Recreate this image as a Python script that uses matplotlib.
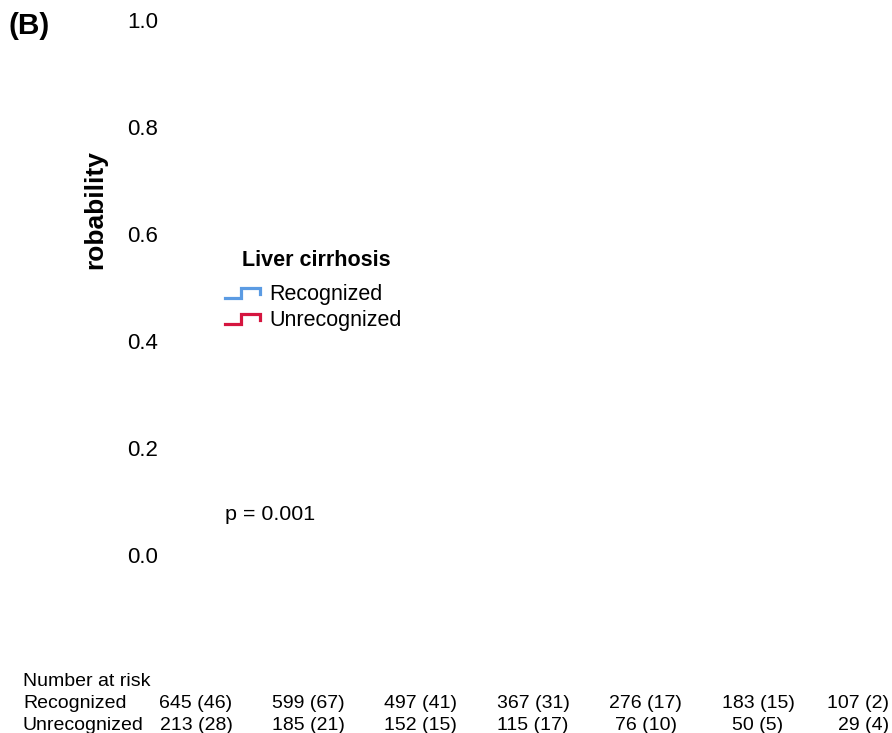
import matplotlib
matplotlib.use("Agg")
import matplotlib.pyplot as plt
from matplotlib.legend_handler import HandlerBase
from matplotlib.lines import Line2D

plt.rcParams['font.family'] = ['Liberation Sans', 'DejaVu Sans']

# ---- data ----
groups = ["Recognized", "Unrecognized"]
colors = ["#5B9BE3", "#D5153F"]
risk_times = [0, 1, 2, 3, 4, 5, 6]
risk_recognized = ["645 (46)", "599 (67)", "497 (41)", "367 (31)", "276 (17)", "183 (15)", "107 (2)"]
risk_unrecognized = ["213 (28)", "185 (21)", "152 (15)", "115 (17)", "76 (10)", "50 (5)", "29 (4)"]
yticks = [0.0, 0.2, 0.4, 0.6, 0.8, 1.0]
p_text = "p = 0.001"
legend_title = "Liver cirrhosis"

W, H = 892, 733
fig = plt.figure(figsize=(W / 100, H / 100), dpi=100)

# axes placement in pixels
left_px, right_px = 165, 889
top_px, bottom_px = 20, 555
ax = fig.add_axes([left_px / W, 1 - bottom_px / H, (right_px - left_px) / W, (bottom_px - top_px) / H])
ax.set_xlim(-0.276, 6.166)
ax.set_ylim(0, 1)
for s in ax.spines.values():
    s.set_visible(False)
ax.set_xticks([])
ax.set_yticks(yticks)
ax.set_yticklabels([f"{v:.1f}" for v in yticks])
ax.tick_params(axis='y', length=0, pad=5, labelsize=16)
ax.set_ylabel("robability", fontsize=19, fontweight='bold')
ax.yaxis.set_label_coords(-0.08, 0.645)


class StepHandler(HandlerBase):
    def create_artists(self, legend, orig_handle, xdescent, ydescent, width, height, fontsize, trans):
        x0 = -xdescent
        y0 = -ydescent
        xs = [x0, x0 + 0.45 * width, x0 + 0.45 * width, x0 + width, x0 + width]
        ys = [y0 + 0.15 * height, y0 + 0.15 * height, y0 + 0.8 * height, y0 + 0.8 * height, y0 + 0.4 * height]
        ln = Line2D(xs, ys, color=orig_handle.get_color(), lw=2.3, solid_joinstyle='miter')
        ln.set_transform(trans)
        return [ln]


handles = []
for g, c in zip(groups, colors):
    h, = ax.step([], [], color=c, label=g, lw=2.3)
    handles.append(h)


def ax_fx(px):
    return (px - left_px) / (right_px - left_px)


def ax_fy(py):
    return (bottom_px - py) / (bottom_px - top_px)


leg = ax.legend(handles=handles, labels=groups,
                loc='upper left', bbox_to_anchor=(ax_fx(225), ax_fy(284)),
                frameon=False, fontsize=15.5,
                handler_map={Line2D: StepHandler()}, handlelength=1.63, handletextpad=0.42,
                labelspacing=0.25, borderaxespad=0, borderpad=0)
ax.text(ax_fx(316), ax_fy(260), legend_title, fontsize=15.5, fontweight='bold',
        transform=ax.transAxes, ha='center', va='center')

ax.text(ax_fx(225), 0.075, p_text, fontsize=15.4, va='center', ha='left', transform=ax.transAxes)

fig.text(8 / W, 1 - 26 / H, "(B)", fontsize=21.5, fontweight='bold', va='center', ha='left')

# number at risk table
fs_tab = 14
fig.text(23 / W, 1 - 681 / H, "Number at risk", fontsize=fs_tab, va='center', ha='left')
row_y = [703, 725]
for name, vals, yp in zip(groups, [risk_recognized, risk_unrecognized], row_y):
    fig.text(23 / W, 1 - yp / H, name, fontsize=fs_tab, va='center', ha='left')
    for i, (t, v) in enumerate(zip(risk_times, vals)):
        if i == len(vals) - 1:
            xpx = right_px
            ha = 'right'
        else:
            xpx = ax.transData.transform((t, 0))[0]
            ha = 'center'
        fig.text(xpx / W, 1 - yp / H, v, fontsize=fs_tab, va='center', ha=ha)

fig.savefig("out.png", dpi=100)
